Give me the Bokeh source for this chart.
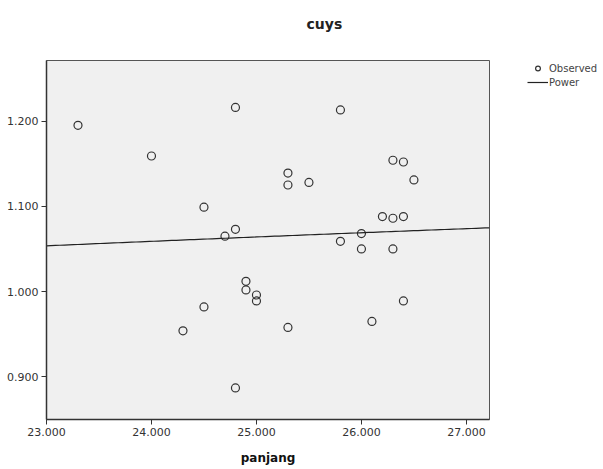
import numpy as np
from bokeh.plotting import figure
from bokeh.layouts import row
from bokeh.models import Range1d, Legend, LegendItem, FixedTicker, CustomJSTickFormatter, ColumnDataSource, Title
from bokeh.embed import file_html
from bokeh.resources import INLINE

title_text = "cuys"
x_label = "panjang"
legend_labels = ["Observed", "Power"]

panjang = [23.3, 24.0, 24.8, 25.8, 25.3, 25.3, 25.5, 24.5, 24.8, 24.7,
           26.3, 26.4, 26.5, 26.2, 26.3, 26.4, 26.0, 25.8, 26.0, 26.3,
           26.4, 26.1, 24.9, 24.9, 25.0, 25.0, 24.5, 24.3, 25.3, 24.8]
cuys = [1.195, 1.159, 1.216, 1.213, 1.139, 1.125, 1.128, 1.099, 1.073, 1.065,
        1.154, 1.152, 1.131, 1.088, 1.086, 1.088, 1.068, 1.059, 1.050, 1.050,
        0.989, 0.965, 1.012, 1.002, 0.996, 0.989, 0.982, 0.954, 0.958, 0.887]

x_ticks = [23, 24, 25, 26, 27]
y_ticks = [0.9, 1.0, 1.1, 1.2]

# Power fit (ln y = ln a + b ln x)
b, ln_a = np.polyfit(np.log(panjang), np.log(cuys), 1)
fit_x = np.linspace(23.0, 27.22, 100)
fit_y = np.exp(ln_a) * fit_x ** b

FONT = "DejaVu Sans"
PT_STYLE = dict(size=8, marker="circle", fill_color=None, line_color="#333333", line_width=1.2)
LN_STYLE = dict(line_color="#222222", line_width=1.2)

p = figure(width=490, height=469, output_backend="svg", toolbar_location=None,
           x_range=Range1d(23.0, 27.22), y_range=Range1d(0.85, 1.271),
           min_border_left=46, min_border_right=1, min_border_top=60, min_border_bottom=50)
p.background_fill_color = "#F0F0F0"
p.border_fill_color = "white"
p.outline_line_color = "#555555"
p.outline_line_width = 1
p.grid.visible = False

for ax in (p.xaxis[0], p.yaxis[0]):
    ax.axis_line_color = "#333333"
    ax.axis_line_width = 1.5
    ax.major_tick_line_color = "#333333"
    ax.major_tick_out = 5
    ax.major_tick_in = 0
    ax.minor_tick_line_color = None
    ax.major_label_text_font = FONT
    ax.major_label_text_font_size = "11px"
    ax.major_label_text_color = "#333333"
    ax.major_label_standoff = 3
    ax.formatter = CustomJSTickFormatter(code="return tick.toFixed(3);")

p.xaxis.ticker = FixedTicker(ticks=x_ticks)
p.yaxis.ticker = FixedTicker(ticks=y_ticks)
p.xaxis.axis_label = x_label
p.xaxis.axis_label_text_font = FONT
p.xaxis.axis_label_text_font_size = "12px"
p.xaxis.axis_label_text_font_style = "bold"
p.xaxis.axis_label_text_color = "#111111"
p.xaxis.axis_label_standoff = 12

src = ColumnDataSource(dict(x=panjang, y=cuys))
fit_src = ColumnDataSource(dict(x=fit_x, y=fit_y))
p.scatter("x", "y", source=src, **PT_STYLE)
p.line("x", "y", source=fit_src, **LN_STYLE)

t = Title(text=title_text + "\n", align="left", vertical_align="top", offset=260, standoff=22,
          text_font=FONT, text_font_size="14px", text_font_style="bold",
          text_color="#222222")
p.add_layout(t, "above")

# Legend panel (same data, outside its view; only the legend keys show)
p2 = figure(width=113, height=469, output_backend="svg", toolbar_location=None,
            x_range=Range1d(0, 1), y_range=Range1d(0, 1),
            x_axis_location=None, y_axis_location=None, min_border=0)
p2.outline_line_color = None
p2.grid.visible = False
p2.background_fill_color = "white"
p2.border_fill_color = "white"
k1 = p2.scatter("x", "y", source=src, **PT_STYLE)
k2 = p2.line("x", "y", source=fit_src, **LN_STYLE)

legend = Legend(items=[LegendItem(label=legend_labels[0], renderers=[k1]),
                       LegendItem(label=legend_labels[1], renderers=[k2])],
                location=(37, 331), orientation="vertical")
legend.background_fill_alpha = 0
legend.border_line_color = None
legend.padding = 0
legend.margin = 0
legend.spacing = 2
legend.glyph_width = 21
legend.glyph_height = 12
legend.label_standoff = 1
legend.label_text_font = FONT
legend.label_text_font_size = "10px"
legend.label_text_color = "#444444"
legend.label_height = 12
p2.add_layout(legend, "center")

layout = row(p, p2)
open("out.html", "w").write(file_html(layout, INLINE))
